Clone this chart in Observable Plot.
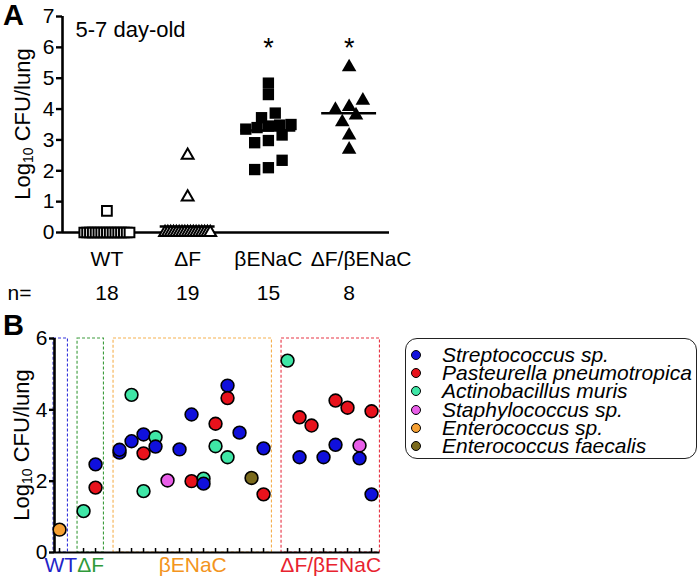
<!DOCTYPE html>
<html><head><meta charset="utf-8">
<script src="https://cdn.jsdelivr.net/npm/d3@7"></script>
<script src="https://cdn.jsdelivr.net/npm/@observablehq/plot@0.6"></script>
<style>
body{margin:0;background:#fff;font-family:"Liberation Sans",Arial,sans-serif;}
#wrap{position:relative;width:700px;height:580px;overflow:hidden;background:#fff;}
#plotA,#plotB{position:absolute;left:0;}
#plotA{top:0;} #plotB{top:320px;}
.panel{position:absolute;font-size:29px;font-weight:bold;line-height:1;}
.ylab{position:absolute;font-size:22px;line-height:1;white-space:nowrap;transform:translate(-50%,-50%) rotate(-90deg);}
.ylab sub{font-size:14px;vertical-align:-3px;line-height:0;}
#legend{position:absolute;left:405px;top:338px;width:292px;height:121px;border:1.3px solid #222;border-radius:12px;box-sizing:border-box;}
.lrow{position:absolute;left:0;height:18px;font-size:21px;font-style:italic;line-height:18px;white-space:nowrap;}
.lrow span.c{position:absolute;left:5px;top:4px;width:10px;height:10px;border-radius:50%;border:1.5px solid #000;box-sizing:border-box;}
.lrow span.t{position:absolute;left:36px;top:0;}
svg text{font-family:"Liberation Sans",Arial,sans-serif;}
</style></head>
<body><div id="wrap">
<div id="plotA"></div>
<div id="plotB"></div>
<div class="panel" style="left:3px;top:1px;">A</div>
<div class="panel" style="left:3px;top:311px;">B</div>
<div class="ylab" style="left:23px;top:124px;">Log<sub>10</sub> CFU/lung</div>
<div class="ylab" style="left:22px;top:445px;">Log<sub>10</sub> CFU/lung</div>
<div id="legend"></div>
</div>
<script>
// ---------- Panel A data ----------
const groupsA = ["WT", "ΔF", "βENaC", "ΔF/βENaC"];
const nA = [18, 19, 15, 8];
const wtValues = [0.70, 0,0,0,0,0,0,0,0,0,0,0,0,0,0,0,0,0];
const dfValues = [2.50, 1.15, 0,0,0,0,0,0,0,0,0,0,0,0,0,0,0,0,0];
const benacValues = [4.84, 4.47, 3.87, 3.72, 3.50, 3.48, 3.45, 3.40, 3.35, 3.16, 2.98, 2.91, 2.34, 2.10, 2.04];
const dfBenacValues = [5.36, 4.28, 4.07, 3.98, 3.80, 3.58, 3.15, 2.69];
const significant = [2, 3];
const yTicksA = [0, 1, 2, 3, 4, 5, 6, 7];
const titleA = "5-7 day-old";

// ---------- Panel B data ----------
const speciesNames = ["Streptococcus sp.", "Pasteurella pneumotropica", "Actinobacillus muris", "Staphylococcus sp.", "Enterococcus sp.", "Enterococcus faecalis"];
const speciesColors = ["#1010dc", "#e8121c", "#3fe6a6", "#e85ee8", "#f6a033", "#7a6a1c"];
const groupsB = ["WT", "ΔF", "βENaC", "ΔF/βENaC"];
const groupColorsB = ["#2323c8", "#2f9a3a", "#f39420", "#e8232f"];
const boxColorsB = ["#3434dc", "#3c9c3c", "#f5b04e", "#e83444"];
const miceB = [1, 2, 13, 8];
// one entry per bacterial isolate: group, mouse within group, species, log10 CFU
const isoGroup   = [0, 1,1,1, 2,2,2,2,2,2,2,2,2,2,2,2,2,2,2,2,2,2,2,2,2,2,2,2, 3,3,3,3,3,3,3,3,3,3,3,3];
const isoMouse   = [0, 0,1,1, 0,0,1,1,2,2,2,3,3,4,5,6,6,7,7,8,8,9,9,9,10,11,12,12, 0,1,1,2,3,4,4,5,6,6,7,7];
const isoSpecies = [4, 2,1,0, 0,0,0,2,2,1,0,2,0,3,0,0,1,2,0,2,1,2,0,1,0,5,0,1, 2,0,1,1,0,0,1,1,3,0,0,1];
const isoValue   = [0.64, 1.16,1.82,2.47, 2.80,2.88,3.12,4.42,1.72,2.78,3.31,3.23,2.97,2.02,2.89,3.87,2.00,2.07,1.93,2.98,3.61,2.67,4.68,4.33,3.36,2.09,2.92,1.63, 5.38,2.67,3.79,3.56,2.67,3.02,4.26,4.06,3.00,2.64,1.63,3.96];
const yTicksB = [0, 2, 4, 6];

// ---------- Panel A ----------
const FONT = 21;
function rowOffsets(values, thr, step, maxW) {
  const idx = d3.range(values.length).sort((a, b) => values[a] - values[b]);
  const off = new Array(values.length).fill(0);
  let i = 0;
  while (i < idx.length) {
    let j = i; const start = values[idx[i]];
    while (j < idx.length && values[idx[j]] - start < thr) j++;
    const k = j - i; const s = k > 1 ? Math.min(step, maxW / (k - 1)) : 0;
    for (let m = 0; m < k; m++) off[idx[i + m]] = (m - (k - 1) / 2) * s;
    i = j;
  }
  return off;
}
const valuesA = [wtValues, dfValues, benacValues, dfBenacValues];
const pointsA = valuesA.map((vals, g) => {
  const off = rowOffsets(vals, 0.32, 0.17, 0.56);
  return vals.map((v, i) => ({g, v, x: g + off[i]}));
});
const meansA = valuesA.map((vals, g) => ({g, m: d3.mean(vals)}));
const xDomA = [-0.55, groupsA.length - 0.5];
const lastA = groupsA.length - 1;

const plotA = Plot.plot({
  width: 430, height: 310,
  marginLeft: 62, marginRight: 41, marginTop: 16, marginBottom: 78,
  x: {domain: xDomA},
  y: {domain: [0, d3.max(yTicksA)]},
  marks: [
    Plot.ruleY([0], {strokeWidth: 2.6}),
    Plot.ruleX([xDomA[0]], {strokeWidth: 2.6}),
    Plot.axisY({ticks: yTicksA, tickFormat: "d", tickSize: 6, tickPadding: 2, fontSize: FONT, strokeWidth: 2.4, label: null}),
    Plot.axisX({ticks: d3.range(lastA), tickFormat: i => groupsA[i], tickSize: 0, tickPadding: 19, fontSize: FONT, label: null}),
    Plot.axisX({ticks: [lastA], tickFormat: i => groupsA[i], tickSize: 0, tickPadding: 19, dx: 12, fontSize: FONT, label: null}),
    Plot.axisX({ticks: d3.range(groupsA.length), tickFormat: i => String(nA[i]), tickSize: 0, tickPadding: 53, fontSize: FONT, label: null}),
    Plot.text(["n="], {frameAnchor: "bottom-left", textAnchor: "start", lineAnchor: "top", dx: -55, dy: 53, fontSize: FONT}),
    Plot.text([titleA], {frameAnchor: "top-left", textAnchor: "start", lineAnchor: "top", dx: 13, dy: 5, fontSize: 22}),
    Plot.text(significant, {x: d => d, frameAnchor: "top", lineAnchor: "top", dy: 21, text: () => "*", fontSize: 27}),
    Plot.ruleY(meansA, {x1: d => d.g - 0.34, x2: d => d.g + 0.34, y: "m", strokeWidth: 2.6}),
    Plot.dot(pointsA[0], {x: "x", y: "v", symbol: "square", r: 5.5, fill: "white", stroke: "black", strokeWidth: 2}),
    Plot.dot(pointsA[1], {x: "x", y: "v", symbol: "triangle", r: 4.4, fill: "white", stroke: "black", strokeWidth: 2}),
    Plot.dot(pointsA[2], {x: "x", y: "v", symbol: "square", r: 6.4, fill: "black", stroke: "none"}),
    Plot.dot(pointsA[3], {x: "x", y: "v", symbol: "triangle", r: 5.4, fill: "black", stroke: "none"})
  ]
});
document.getElementById("plotA").append(plotA);

// ---------- Panel B ----------
const startB = [];
miceB.reduce((s, n, g) => { startB[g] = s; return s + n + 1; }, 0);
const slotsB = groupsB.flatMap((_, g) => d3.range(miceB[g]).map(m => startB[g] + m));
const isolates = isoValue.map((v, i) => ({
  x: startB[isoGroup[i]] + isoMouse[i], v, c: speciesColors[isoSpecies[i]]
}));
const boxes = groupsB.map((name, g) => ({
  name, x1: startB[g] - 0.5, x2: startB[g] + miceB[g] - 1 + 0.7,
  stroke: boxColorsB[g], fill: groupColorsB[g]
}));
const xDomB = [-0.42, d3.max(boxes, b => b.x2)];
const yMaxB = d3.max(yTicksB);
const pxPerSlot = 12;
const innerB = pxPerSlot * (xDomB[1] - xDomB[0]);

const plotB = Plot.plot({
  width: 390, height: 260,
  marginLeft: 54, marginRight: 390 - 54 - innerB, marginTop: 18, marginBottom: 28,
  x: {domain: xDomB},
  y: {domain: [0, yMaxB]},
  color: {type: "identity"},
  marks: [
    Plot.rect(boxes, {x1: "x1", x2: "x2", y1: 0, y2: yMaxB, fill: "none", stroke: "stroke", strokeWidth: 1.1, strokeDasharray: "3,2"}),
    Plot.ruleY([0], {strokeWidth: 2}),
    Plot.ruleX([xDomB[0]], {strokeWidth: 2.6}),
    Plot.axisY({ticks: yTicksB, tickFormat: "d", tickSize: 5, tickPadding: 2, fontSize: FONT, strokeWidth: 2.4, label: null}),
    Plot.axisX({ticks: slotsB, tickFormat: () => "", tickSize: -4, strokeWidth: 1.5, label: null}),
    Plot.text(boxes, {x: d => (d.x1 + d.x2) / 2, text: "name", fill: "fill", frameAnchor: "bottom", lineAnchor: "top", dy: 5, fontSize: FONT}),
    Plot.dot(isolates, {x: "x", y: "v", r: 6.4, fill: "c", stroke: "black", strokeWidth: 1.6})
  ]
});
document.getElementById("plotB").append(plotB);

// ---------- Legend ----------
const legend = document.getElementById("legend");
speciesNames.forEach((name, i) => {
  const row = document.createElement("div");
  row.className = "lrow";
  row.style.top = (7 + i * 18.2) + "px";
  const c = document.createElement("span"); c.className = "c"; c.style.background = speciesColors[i];
  const t = document.createElement("span"); t.className = "t"; t.textContent = name;
  row.append(c, t);
  legend.append(row);
});
</script>
</body></html>
